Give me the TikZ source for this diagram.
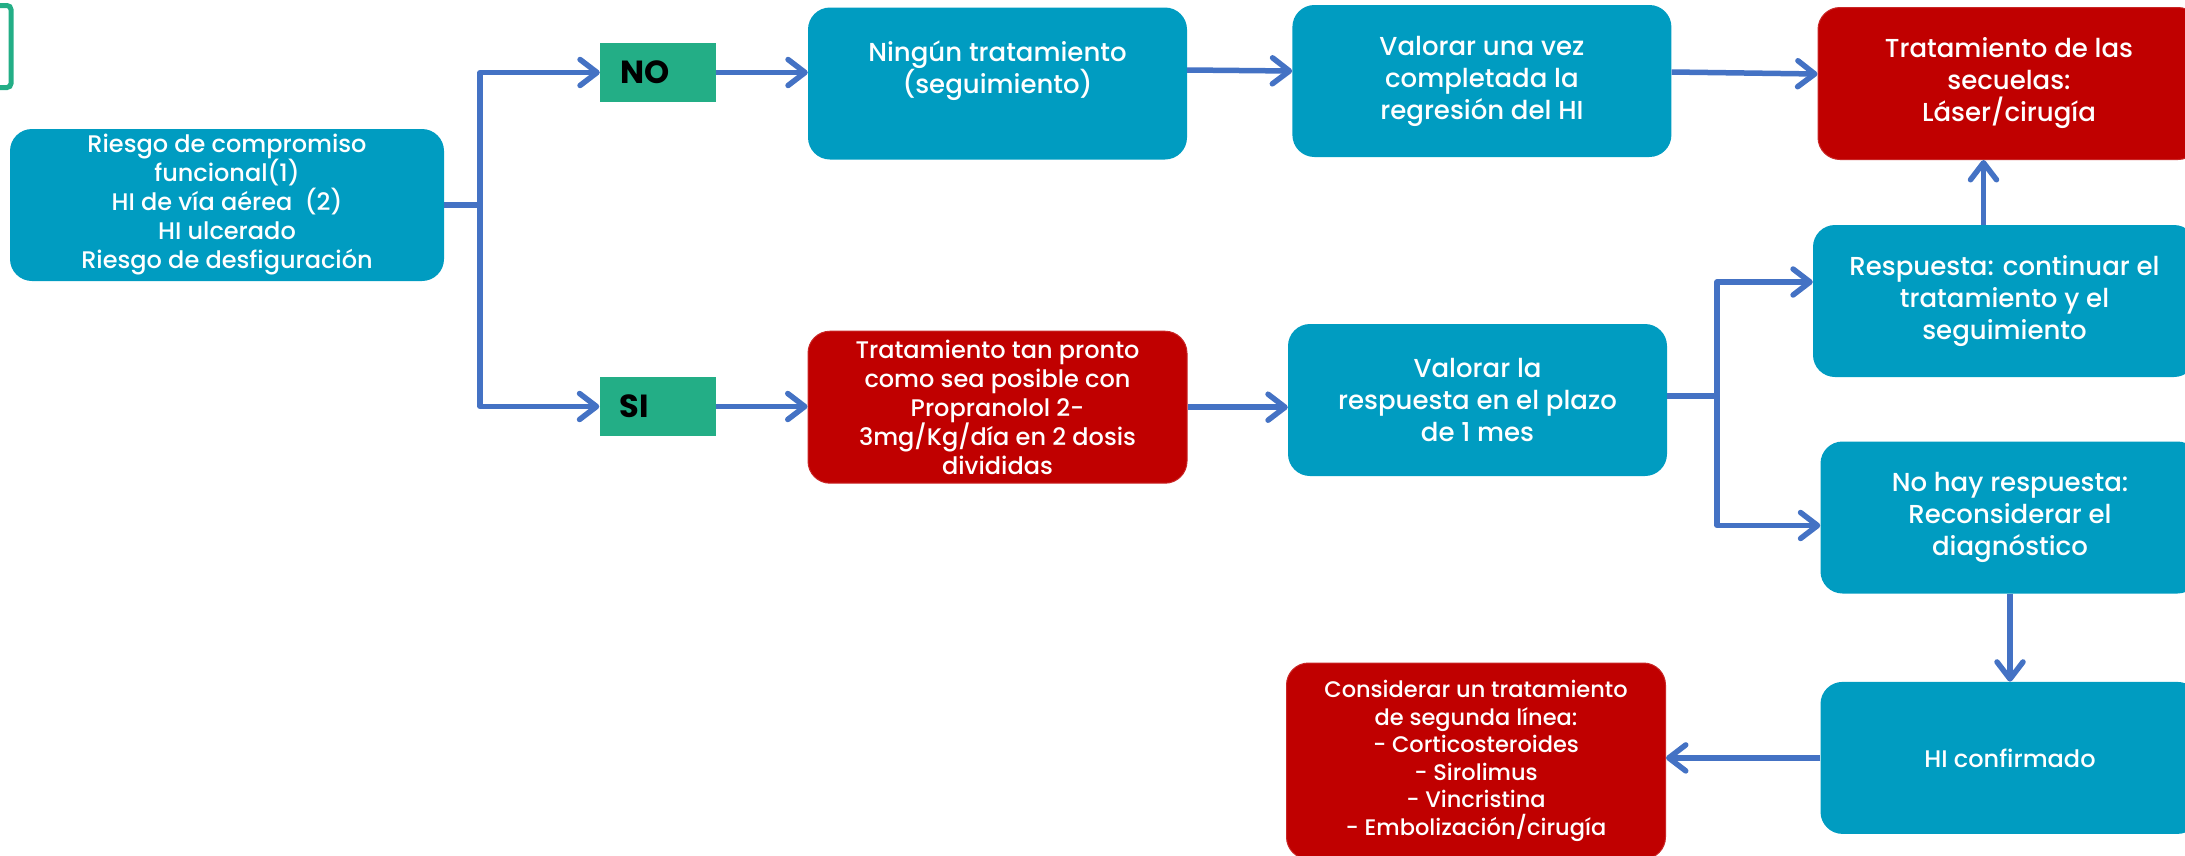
\documentclass[tikz,border=0pt]{standalone}
\usepackage{fontspec}
\setsansfont{Poppins Medium}[BoldFont=Poppins Bold]
\usetikzlibrary{positioning,arrows.meta}

\definecolor{cajaazul}{RGB}{0,156,193}
\definecolor{cajaroja}{RGB}{192,0,0}
\definecolor{verde}{RGB}{35,174,134}
\definecolor{flecha}{RGB}{68,114,196}

\begin{document}
\begin{tikzpicture}[
    x=1pt, y=-1pt,
    every node/.style={font=\sffamily, text=white, align=center},
    azul/.style={fill=cajaazul, rounded corners=22pt, minimum width=379pt, minimum height=152pt, inner sep=0pt},
    roja/.style={azul, fill=cajaroja, draw=cajaroja!85!white, line width=1pt},
    etiqueta/.style={fill=verde, text=black, font=\sffamily\bfseries\fontsize{32}{34}\selectfont, text width=76pt, inner xsep=20pt, inner ysep=0pt, minimum height=59pt, align=left},
    grande/.style={font=\sffamily\fontsize{26}{32}\selectfont},
    chica/.style={font=\sffamily\fontsize{24}{29}\selectfont},
    conector/.style={draw=flecha, line width=5.5pt, line join=round, -{Straight Barb[length=17pt,width=26pt,round]}}
]
\useasboundingbox (0,0) rectangle (2185,855);
\clip (0,0) rectangle (2185,855);

% marco verde
\node[draw=verde, line width=5pt, rounded corners=4pt, minimum width=60pt, minimum height=82pt, inner sep=0pt] (marco) at (-19,46.5) {};

% columna izquierda
\node[azul, chica, minimum width=434pt] (riesgo) at (227,205) {Riesgo de compromiso\\ funcional(1)\\ HI de vía aérea\ \ (2)\\ HI ulcerado\\ Riesgo de desfiguración};
\node[etiqueta] (no) at (658,72.5) {NO};
\node[etiqueta] (si) at (657.5,406.5) {SI};

% fila superior
\node[azul, grande] (ningun) at (997.5,83.5) {Ningún tratamiento\\ (seguimiento)\\ \mbox{}};
\node[azul, grande, right=105pt of ningun, yshift=2.5pt] (valorar1) {Valorar una vez\\ completada la\\ regresión del HI};
\node[roja, grande, minimum width=382pt] (secuelas) at (2009,83.5) {Tratamiento de las\\ secuelas:\\ Láser/cirugía};

% fila media
\node[roja, chica, below=171pt of ningun] (propranolol) {Tratamiento tan pronto\\ como sea posible con\\ Propranolol 2-\\ 3mg/Kg/día en 2 dosis\\ divididas};
\node[azul, grande] (valorar2) at (1477.5,400) {Valorar la\\ respuesta en el plazo\\ de 1 mes};
\node[azul, grande, minimum width=383pt] (respuesta) at (2004.5,301) {Respuesta: continuar el\\ tratamiento y el\\ seguimiento};
\node[azul, grande] (nohay) at (2010,517.5) {No hay respuesta:\\ Reconsiderar el\\ diagnóstico};

% fila inferior
\node[azul, font=\sffamily\fontsize{24}{32}\selectfont, below=88pt of nohay] (hiconf) {HI confirmado};
\node[roja, font=\sffamily\fontsize{22.5}{27.5}\selectfont, minimum height=196pt] (considerar) at (1476,761) {Considerar un tratamiento\\ de segunda línea:\\ - Corticosteroides\\ - Sirolimus\\ - Vincristina\\ - Embolización/cirugía};

% conectores
\draw[conector] (riesgo.east) -- ++(36,0) |- (no.west);
\draw[conector] (riesgo.east) -- ++(36,0) |- (si.west);
\draw[conector] (no.east) -- (no.east -| ningun.west);
\draw[conector] ([yshift=13.5pt]ningun.east) -- ([yshift=10pt]valorar1.west);
\draw[conector] ([yshift=9pt]valorar1.east) -- ([yshift=9.5pt]secuelas.west);
\draw[conector] (si.east) -- (si.east -| propranolol.west);
\draw[conector] (propranolol.east) -- (propranolol.east -| valorar2.west);
\draw[conector] ([yshift=4pt]valorar2.east) -- ++(50,0) |- ([yshift=19pt]respuesta.west);
\draw[conector] ([yshift=4pt]valorar2.east) -- ++(50,0) |- ([yshift=-8pt]nohay.west);
\draw[conector] ([xshift=-21pt]respuesta.north) -- ([xshift=-21pt]respuesta.north |- secuelas.south);
\draw[conector] (nohay.south) -- (hiconf.north);
\draw[conector] (hiconf.west) -- (hiconf.west -| considerar.east);

\end{tikzpicture}
\end{document}
